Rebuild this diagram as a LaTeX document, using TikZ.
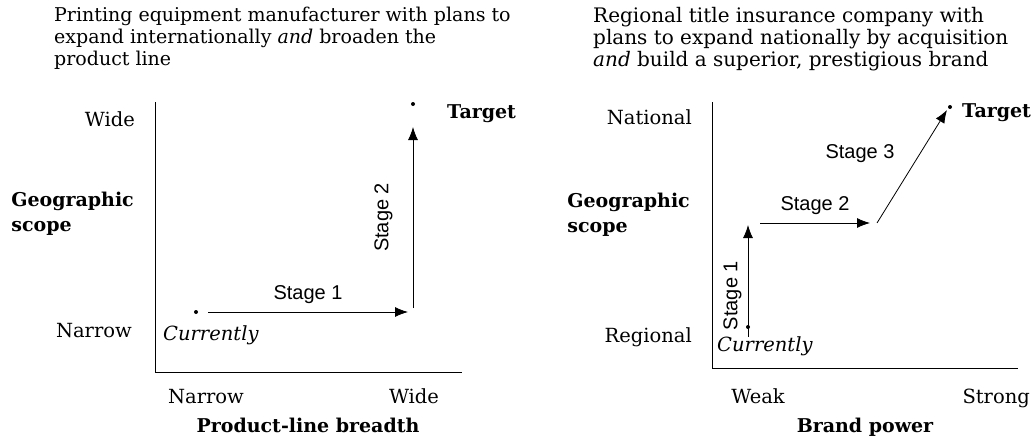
\documentclass[tikz,border=0pt]{standalone}
\usepackage{fontspec}
\setmainfont{DejaVu Serif}
\newfontfamily\stagefont{Liberation Sans}
\usetikzlibrary{positioning}
\usetikzlibrary{arrows.meta}

\tikzset{
  heading/.style={anchor=north west, align=left, inner sep=0pt, font=\fontsize{19}{22}\selectfont},
  ticklabel/.style={inner sep=0pt, font=\fontsize{19.5}{22}\selectfont},
  axistitle/.style={inner sep=0pt, align=left, font=\bfseries\fontsize{19}{25}\selectfont},
  nowlabel/.style={inner sep=0pt, anchor=base west, font=\itshape\fontsize{19.5}{22}\selectfont},
  stagelabel/.style={inner sep=0pt, font=\stagefont\fontsize{20}{22}\selectfont},
  stagearrow/.style={-{Latex[length=13pt,width=10pt]}, line width=0.8pt},
  spot/.style={circle, fill=black, inner sep=0pt, minimum size=4pt},
  axisline/.style={line width=0.8pt},
}

\begin{document}
\begin{tikzpicture}[x=1pt, y=-1pt]
%--------------------------------------------------
\useasboundingbox (0,0) rectangle (1033,442);

% left case: printing equipment manufacturer
\node[heading] (lhead) at (54,7) {Printing equipment manufacturer with plans to\\expand internationally \emph{and} broaden the\\product line};

% axes of the left chart
\coordinate (ltop) at (155,102);
\coordinate (lorig) at (155,372);
\coordinate (lend) at (462,372);
\draw[axisline] (ltop) -- (lorig) -- (lend);

% tick labels and axis titles
\node[ticklabel, anchor=base east] (lwide) at (135,126) {Wide};
\node[ticklabel, anchor=base east] (lnarrow) at (132,337) {Narrow};
\node[axistitle, anchor=north east] (lgeo) at (134,192) {Geographic\\scope};
\node[ticklabel, anchor=base] (lxnarrow) at (206,403) {Narrow};
\node[ticklabel, anchor=base] (lxwide) at (414,403) {Wide};
\node[axistitle, anchor=base] (lbreadth) at (308,432) {Product-line breadth};

% where the company is and where it wants to be
\node[spot] (lnow) at (196,312) {};
\node[nowlabel] (lnowtext) at (163,340) {Currently};
\node[spot] (ltarget) at (413,104) {};
\node[axistitle, anchor=base west] (ltargettext) at (447,118) {Target};
\coordinate (lbend) at (413,312);

% the two stages
\draw[stagearrow] ([xshift=12pt]lnow.center) -- ([xshift=-5pt]lbend) node[stagelabel, midway, above=8pt] {Stage 1};
\draw[stagearrow] ([yshift=4pt]lbend) -- ([yshift=-23pt]ltarget.center) node[stagelabel, midway, sloped, above=20pt] {Stage 2};

% right case: regional title insurance company
\node[heading, font=\fontsize{20}{22}\selectfont] (rhead) at (593,7) {Regional title insurance company with\\plans to expand nationally by acquisition\\\emph{and} build a superior, prestigious brand};

% axes of the right chart
\coordinate (rtop) at (712,102);
\coordinate (rorig) at (712,368);
\coordinate (rend) at (1018,368);
\draw[axisline] (rtop) -- (rorig) -- (rend);

% tick labels and axis titles
\node[ticklabel, anchor=base east] (rnational) at (692,124) {National};
\node[ticklabel, anchor=base east] (rregional) at (692,342) {Regional};
\node[axistitle, anchor=north east] (rgeo) at (690,193) {Geographic\\scope};
\node[ticklabel, anchor=base] (rweak) at (758,403) {Weak};
\node[ticklabel, anchor=base east] (rstrong) at (1030,403) {Strong};
\node[axistitle, anchor=base] (rbrand) at (865,432) {Brand power};

% where the company is and where it wants to be
\node[spot] (rnow) at (748,327) {};
\node[nowlabel] (rnowtext) at (717,351) {Currently};
\node[spot] (rtarget) at (950,107) {};
\node[axistitle, anchor=base west] (rtargettext) at (962,117) {Target};
\coordinate (rbend1) at (748,223);
\coordinate (rbend2) at (877,223);

% the three stages
\draw[stagearrow] ([yshift=-10pt]rnow.center) -- ([yshift=-2pt]rbend1) node[stagelabel, pos=0.37, sloped, above=6pt] {Stage 1};
\draw[stagearrow] ([xshift=12pt]rbend1) -- ([xshift=-7pt]rbend2) node[stagelabel, midway, above=8pt] {Stage 2};
\draw[stagearrow] (rbend2) -- ([xshift=-3pt, yshift=-3pt]rtarget.center);
\node[stagelabel, anchor=base] (rstage3) at (860,158) {Stage 3};

%--------------------------------------------------
\end{tikzpicture}
\end{document}
